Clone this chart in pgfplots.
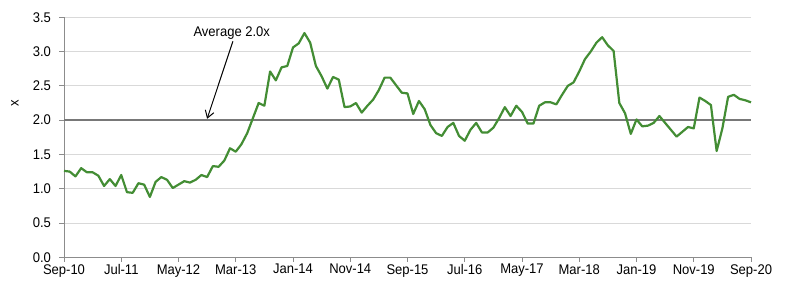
\documentclass[border=0pt]{standalone}
\usepackage{pgfplots}
\pgfplotsset{compat=1.18}
\usepackage{pgfplotstable}
\usepackage{fontspec}
\setmainfont{Liberation Sans}[FakeStretch=0.93]
\usetikzlibrary{arrows.meta}
\definecolor{lineg}{RGB}{67,141,52}
\definecolor{avgg}{RGB}{120,120,120}
\definecolor{gridg}{RGB}{217,217,217}
\definecolor{axg}{RGB}{140,140,140}
\pgfplotstableread{
m v
0 1.26
1 1.25
2 1.18
3 1.30
4 1.24
5 1.24
6 1.19
7 1.04
8 1.14
9 1.04
10 1.20
11 0.95
12 0.94
13 1.08
14 1.06
15 0.88
16 1.10
17 1.17
18 1.13
19 1.01
20 1.06
21 1.11
22 1.09
23 1.13
24 1.20
25 1.17
26 1.33
27 1.32
28 1.41
29 1.59
30 1.54
31 1.65
32 1.81
33 2.03
34 2.25
35 2.21
36 2.71
37 2.58
38 2.77
39 2.79
40 3.06
41 3.12
42 3.27
43 3.13
44 2.79
45 2.64
46 2.46
47 2.63
48 2.59
49 2.19
50 2.20
51 2.25
52 2.11
53 2.21
54 2.30
55 2.44
56 2.62
57 2.62
58 2.51
59 2.40
60 2.39
61 2.09
62 2.28
63 2.16
64 1.93
65 1.81
66 1.77
67 1.90
68 1.96
69 1.77
70 1.70
71 1.86
72 1.96
73 1.82
74 1.82
75 1.89
76 2.03
77 2.19
78 2.06
79 2.21
80 2.12
81 1.95
82 1.95
83 2.21
84 2.26
85 2.26
86 2.23
87 2.37
88 2.50
89 2.55
90 2.71
91 2.89
92 3.00
93 3.13
94 3.21
95 3.09
96 3.01
97 2.25
98 2.10
99 1.80
100 2.01
101 1.91
102 1.92
103 1.96
104 2.06
105 1.96
106 1.86
107 1.76
108 1.83
109 1.90
110 1.88
111 2.33
112 2.28
113 2.22
114 1.55
115 1.88
116 2.34
117 2.37
118 2.31
119 2.29
120 2.26
}\datatable
\begin{document}
\begin{tikzpicture}
\path (-64bp,-36.7bp) rectangle (736bp,257.3bp);
\begin{axis}[
  scale only axis,
  width=687bp, height=240bp,
  xmin=0, xmax=120, ymin=0, ymax=3.5,
  axis lines*=left,
  axis line style={axg, line width=1bp},
  xtick={0,10,20,30,40,50,60,70,80,90,100,110,120},
  xticklabels={Sep-10,Jul-11,May-12,Mar-13,Jan-14,Nov-14,Sep-15,Jul-16,May-17,Mar-18,Jan-19,Nov-19,Sep-20},
  ytick={0,0.5,1,1.5,2,2.5,3,3.5},
  yticklabel style={xshift=-5bp, /pgf/number format/.cd, fixed, fixed zerofill, precision=1},
  /pgf/number format/assume math mode=true,
  tick align=outside,
  major tick length=4.5bp,
  tick style={axg, line width=1bp},
  ymajorgrids,
  grid style={gridg, line width=1bp},
  ticklabel style={font=\fontsize{14bp}{16bp}\selectfont, text=black},
  xticklabel style={yshift=1bp},
  ylabel={x},
  ylabel style={at={(axis description cs:-0.0713,0.643)}, anchor=center, font=\fontsize{14bp}{16bp}\selectfont},
  clip=false,
]
\addplot[avgg, line width=2.5bp] coordinates {(0,2) (120,2)};
\addplot[lineg, line width=2.2bp, line join=round] table[x=m,y=v] {\datatable};
\node[font=\fontsize{14bp}{16bp}\selectfont] at (axis cs:29.3,3.27) {Average 2.0x};
\draw[line width=1bp, -{Straight Barb[length=7bp,width=9bp]}] (axis cs:29.5,3.15) -- (axis cs:25.0,2.02);
\end{axis}
\end{tikzpicture}
\end{document}
